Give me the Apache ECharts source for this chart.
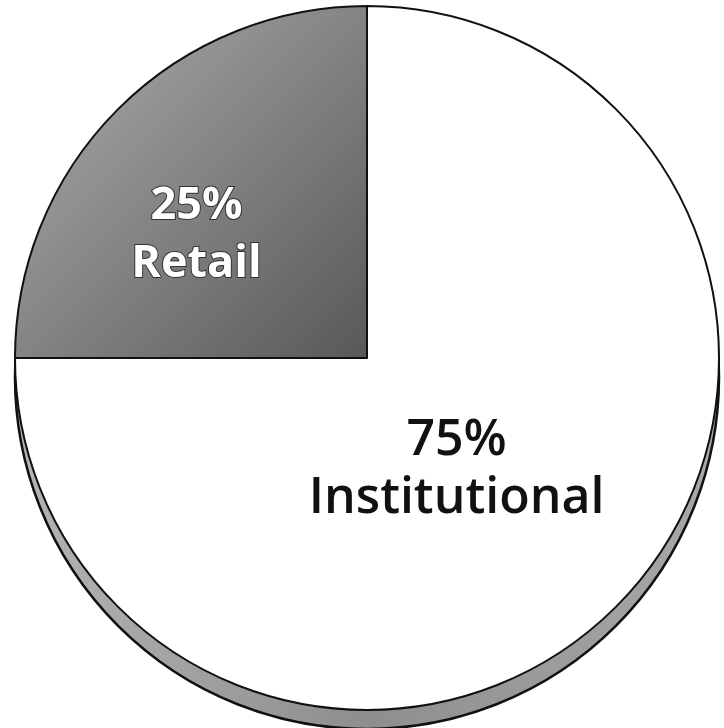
<!DOCTYPE html>
<html>
<head>
<meta charset="utf-8">
<script src="https://cdn.jsdelivr.net/npm/echarts@6/dist/echarts.min.js"></script>
<style>
  html, body { margin: 0; padding: 0; background: #fff; }
  #chart { width: 724px; height: 728px; }
</style>
</head>
<body>
<div id="chart"></div>
<script>
// investor split
const categories = ['Retail', 'Institutional'];
const shares = [25, 75];

const center = [367, 358];
const radius = 352;

let chart = echarts.init(document.getElementById('chart'));

let option = {
  backgroundColor: '#fff',
  animation: false,
  series: [
    // grey side of the disc, sitting under the pie and pushed down
    {
      type: 'pie',
      silent: true,
      center: [center[0], center[1] + 19],
      radius: radius,
      startAngle: 180,
      label: { show: false },
      labelLine: { show: false },
      itemStyle: {
        color: {
          type: 'linear', x: 0, y: 0, x2: 1, y2: 0,
          colorStops: [
            { offset: 0, color: '#b4b4b4' },
            { offset: 0.5, color: '#8e8e8e' },
            { offset: 1, color: '#a8a8a8' }
          ]
        },
        borderColor: '#111', borderWidth: 2.5
      },
      data: [{ name: '', value: 1 }],
      z: 1
    },
    {
      type: 'pie',
      center: center,
      radius: radius,
      startAngle: 180,
      clockwise: true,
      z: 2,
      data: categories.map((name, i) => ({ name: name, value: shares[i] })),
      itemStyle: { borderColor: '#111', borderWidth: 2 },
      color: [
        {
          type: 'linear', x: 0, y: 0, x2: 1, y2: 1,
          colorStops: [
            { offset: 0, color: '#b0b0b0' },
            { offset: 1, color: '#585858' }
          ]
        },
        '#ffffff'
      ],
      label: {
        show: true,
        position: 'inside',
        formatter: p => p.value + '%\n' + p.name,
        fontFamily: 'Open Sans',
        lineHeight: 58
      },
      labelLine: { show: false },
      labelLayout: function (params) {
        if (params.dataIndex === 0) return { dx: -44, dy: 4 };
        return { dx: -37, dy: -15 };
      },
      emphasis: { disabled: true }
    }
  ]
};

// per-slice label styles
option.series[1].data[0].label = {
  color: '#fff', fontSize: 45, fontWeight: 'bold',
  textBorderColor: '#333', textBorderWidth: 2
};
option.series[1].data[1].label = {
  color: '#111', fontSize: 50, fontWeight: 600
};

chart.setOption(option);
</script>
</body>
</html>
